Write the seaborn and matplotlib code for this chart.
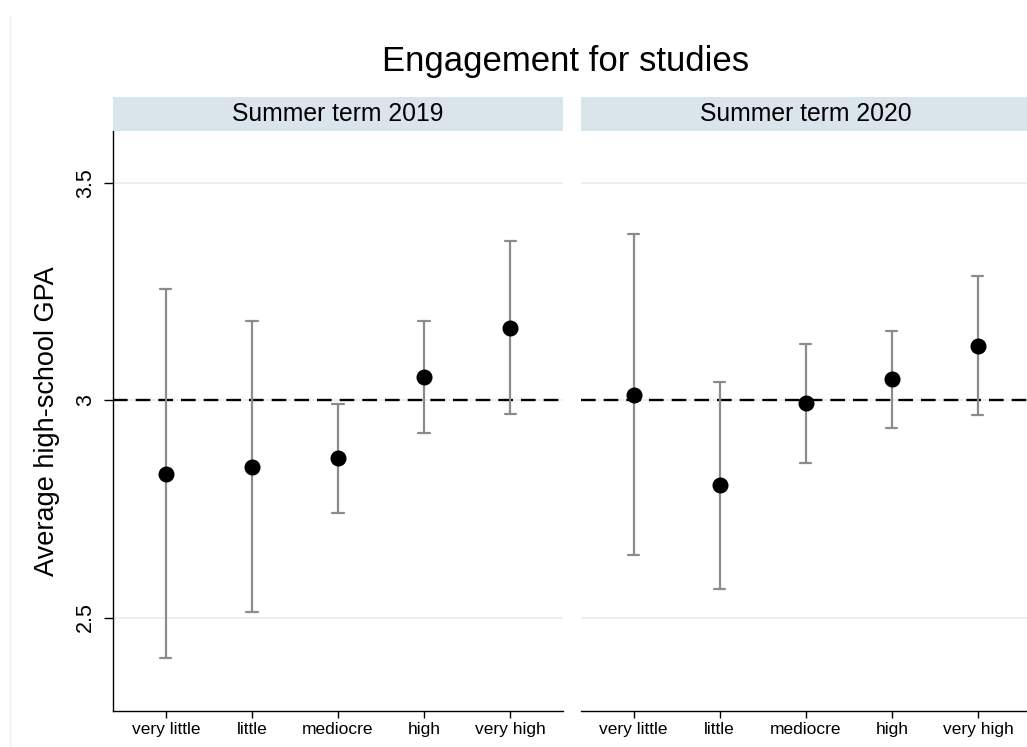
import numpy as np
import pandas as pd
import matplotlib
matplotlib.use("Agg")
import matplotlib.pyplot as plt
from matplotlib.lines import Line2D
import seaborn as sns

# Engagement levels and study terms
levels = ["very little", "little", "mediocre", "high", "very high"]
terms = ["Summer term 2019", "Summer term 2020"]

# Mean high-school GPA with 95% confidence bounds per engagement level
gpa_2019 = [2.830, 2.847, 2.866, 3.054, 3.166]
ci_low_2019 = [2.406, 2.512, 2.741, 2.925, 2.967]
ci_high_2019 = [3.255, 3.182, 2.991, 3.183, 3.367]

gpa_2020 = [3.012, 2.804, 2.993, 3.048, 3.124]
ci_low_2020 = [2.643, 2.565, 2.856, 2.935, 2.965]
ci_high_2020 = [3.382, 3.042, 3.130, 3.160, 3.286]

reference_gpa = 3.0
y_ticks = [2.5, 3, 3.5]
y_tick_labels = ["2.5", "3", "3.5"]

# Long table: lower bound, estimate and upper bound as three rows per level;
# the median is the estimate and the full range is the interval.
rows = []
for term, est, lo, hi in [(terms[0], gpa_2019, ci_low_2019, ci_high_2019),
                          (terms[1], gpa_2020, ci_low_2020, ci_high_2020)]:
    for lvl, e, l, h in zip(levels, est, lo, hi):
        for v in (l, e, h):
            rows.append({"term": term, "level": lvl, "gpa": v})
df = pd.DataFrame(rows)

sns.set_theme(style="white")
plt.rcParams["font.family"] = ["Liberation Sans", "DejaVu Sans"]

W, H = 1027, 747
fig = plt.figure(figsize=(W / 100, H / 100), dpi=100)

def fx(px):
    return px / W

def fy(py):
    return 1 - py / H

panel_w = 449.4
lefts = [113.3, 581.0]
top, bottom = 131.0, 711.0
strip_top = 97.0
strip_color = "#d9e5eb"
grid_color = "#e9f0f2"
err_color = "#8c8c8c"

axes = []
for i, (term, left) in enumerate(zip(terms, lefts)):
    ax = fig.add_axes([fx(left), fy(bottom), fx(panel_w), (bottom - top) / H])
    sub = df[df["term"] == term]
    sns.pointplot(
        data=sub, x="level", y="gpa", order=levels,
        estimator="median", errorbar=("pi", 100),
        linestyle="none", color="black", marker="o", markersize=9.5,
        capsize=0.13,
        err_kws={"color": err_color, "linewidth": 1.6, "zorder": 3},
        zorder=5, ax=ax,
    )
    ax.axhline(reference_gpa, color="black", lw=1.7, dashes=(6.2, 3.4), zorder=2)
    ax.set_xlim(-0.61, 4.61)
    ax.set_ylim(2.285, 3.619)
    ax.set_yticks(y_ticks)
    ax.yaxis.grid(True, color=grid_color, lw=1.4)
    ax.xaxis.grid(False)
    ax.set_axisbelow(True)
    ax.set_xlabel("")
    ax.tick_params(axis="x", length=5, width=1, color="black", pad=3,
                   labelsize=12.5, labelcolor="black", bottom=True)
    for s in ["top", "right"]:
        ax.spines[s].set_visible(False)
    ax.spines["bottom"].set_color("black")
    ax.spines["bottom"].set_linewidth(1.0)
    if i == 0:
        ax.spines["left"].set_color("black")
        ax.spines["left"].set_linewidth(1.0)
        ax.set_yticklabels(y_tick_labels, rotation=90, va="center")
        ax.tick_params(axis="y", length=6.5, width=1, color="black", pad=6,
                       labelsize=15.5, labelcolor="black", left=True)
        ax.set_ylabel("Average high-school GPA", fontsize=19.5, color="black")
        ax.yaxis.set_label_coords((60 - left) / panel_w, 0.5)
    else:
        ax.spines["left"].set_visible(False)
        ax.set_ylabel("")
        ax.tick_params(axis="y", length=0, labelleft=False, left=False)
    axes.append(ax)

    # Panel header strip
    sax = fig.add_axes([fx(left), fy(top), fx(panel_w), (top - strip_top) / H])
    sax.set_facecolor(strip_color)
    sax.set_xticks([])
    sax.set_yticks([])
    for s in sax.spines.values():
        s.set_visible(False)
    sax.text(0.5, 0.5, term, ha="center", va="center", fontsize=17.8,
             color="black", transform=sax.transAxes)

fig.text(fx(566), fy(62), "Engagement for studies", ha="center", va="center",
         fontsize=25, color="black")

# Faint outer frame line on the left
fig.add_artist(Line2D([fx(10), fx(10)], [fy(15), 0], color="#eef0f2", lw=1))

fig.savefig("out.png", dpi=100)
